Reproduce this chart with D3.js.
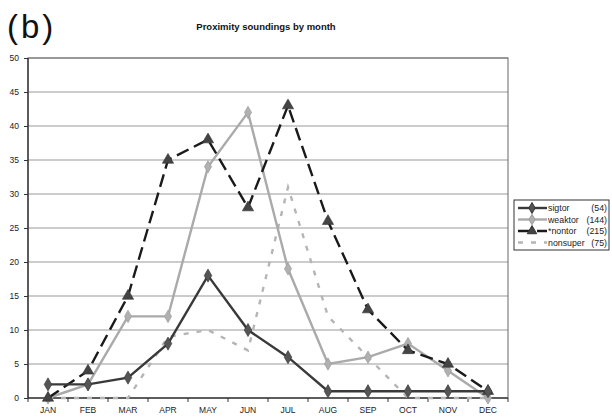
<!DOCTYPE html>
<html><head><meta charset="utf-8">
<script src="https://cdn.jsdelivr.net/npm/d3@7"></script>
<style>body{margin:0;background:#fff}svg{display:block}</style>
</head><body>
<svg id="c" width="612" height="417"></svg>
<script>
const months = ["JAN","FEB","MAR","APR","MAY","JUN","JUL","AUG","SEP","OCT","NOV","DEC"];
const sigtor   = [2,2,3,8,18,10,6,1,1,1,1,1];
const weaktor  = [0,2,12,12,34,42,19,5,6,8,4,0];
const nontor   = [0,4,15,35,38,28,43,26,13,7,5,1];
const nonsuper = [0,0,0,9,10,7,31,12,6,0,0,0];
const yTicks = [0,5,10,15,20,25,30,35,40,45,50];
const seriesNames = ["sigtor","weaktor","*nontor","nonsuper"];
const seriesCounts = ["(54)","(144)","(215)","(75)"];

const svg = d3.select("#c");
const L=28, R=508, T=58, B=398;
const x = d3.scaleBand().domain(months).range([L,R]);
const y = d3.scaleLinear().domain([0,50]).range([B,T]);
const font = "Liberation Sans, Arial, sans-serif";

svg.append("text").attr("x",7).attr("y",38).attr("font-family",font).attr("font-size",33)
  .attr("letter-spacing","3px").attr("fill","#111").text("(b)");
svg.append("text").attr("x",266).attr("y",30).attr("text-anchor","middle").attr("font-family",font)
  .attr("font-size",9.5).attr("font-weight","bold").attr("fill","#111").text("Proximity soundings by month");

// grid
svg.append("g").selectAll("line").data(yTicks).join("line")
  .attr("x1",L).attr("x2",R).attr("y1",d=>y(d)).attr("y2",d=>y(d))
  .attr("stroke","#999").attr("stroke-width",1);
// frame
svg.append("rect").attr("x",L).attr("y",T).attr("width",R-L).attr("height",B-T)
  .attr("fill","none").attr("stroke","#666").attr("stroke-width",1);
svg.append("line").attr("x1",L).attr("x2",L).attr("y1",T).attr("y2",B).attr("stroke","#222").attr("stroke-width",1.2);
svg.append("line").attr("x1",L).attr("x2",R).attr("y1",B).attr("y2",B).attr("stroke","#222").attr("stroke-width",1.2);

// y axis
const ya = svg.append("g").attr("transform",`translate(${L},0)`)
  .call(d3.axisLeft(y).tickValues(yTicks).tickSize(4).tickFormat(d3.format("d")));
ya.select(".domain").remove();
ya.selectAll("line").attr("stroke","#333");
ya.selectAll("text").attr("font-family",font).attr("font-size",8.5).attr("fill","#222").attr("dx","-2");

// x axis ticks at boundaries
const xb = months.map(m=>x(m)).concat([R]);
svg.append("g").selectAll("line").data(xb).join("line")
  .attr("x1",d=>d).attr("x2",d=>d).attr("y1",B).attr("y2",B+4).attr("stroke","#333");
svg.append("g").selectAll("text").data(months).join("text")
  .attr("x",d=>x(d)+x.bandwidth()/2).attr("y",B+15).attr("text-anchor","middle")
  .attr("font-family",font).attr("font-size",8.5).attr("fill","#222").text(d=>d);

const cx = i => x(months[i]) + x.bandwidth()/2;
const line = d3.line().x((d,i)=>cx(i)).y(d=>y(d));

function drawSeries(data, opt){
  const g = svg.append("g");
  g.append("path").datum(data).attr("d",line).attr("fill","none")
    .attr("stroke",opt.color).attr("stroke-width",opt.w).attr("stroke-dasharray",opt.dash||null);
  if(opt.marker){
    const sym = d3.symbol().type(opt.marker).size(opt.msize);
    g.selectAll("path.m").data(data).join("path").attr("class","m")
      .attr("d",sym).attr("transform",(d,i)=>`translate(${cx(i)},${y(d)})`)
      .attr("fill",opt.mfill).attr("stroke",opt.mstroke||"none").attr("stroke-width",0.6);
  }
}
const styles = [
  {color:"#3a3a3a", w:2.4, marker:d3.symbolDiamond, msize:50, mfill:"#555", mstroke:"#333"},
  {color:"#aaaaaa", w:2.4, marker:d3.symbolDiamond, msize:45, mfill:"#b0b0b0", mstroke:"#999"},
  {color:"#1a1a1a", w:2.4, dash:"13,6", marker:d3.symbolTriangle, msize:55, mfill:"#444", mstroke:"#333"},
  {color:"#b5b5b5", w:2.4, dash:"5,8"}
];
drawSeries(nonsuper, styles[3]);
drawSeries(weaktor, styles[1]);
drawSeries(nontor, styles[2]);
drawSeries(sigtor, styles[0]);

// legend
const lg = svg.append("g");
lg.append("rect").attr("x",514).attr("y",200).attr("width",95).attr("height",50)
  .attr("fill","#fff").attr("stroke","#333").attr("stroke-width",1);
seriesNames.forEach((n,i)=>{
  const yy = 208 + i*11.5;
  const s = styles[i];
  lg.append("line").attr("x1",518).attr("x2",547).attr("y1",yy).attr("y2",yy)
    .attr("stroke",s.color).attr("stroke-width",s.w).attr("stroke-dasharray",s.dash||null);
  if(s.marker){
    lg.append("path").attr("d",d3.symbol().type(s.marker).size(s.msize*0.7)())
      .attr("transform",`translate(532,${yy})`).attr("fill",s.mfill).attr("stroke",s.mstroke);
  }
  lg.append("text").attr("x",548).attr("y",yy+3).attr("font-family",font).attr("font-size",8.8)
    .attr("fill","#222").text(n);
  lg.append("text").attr("x",607).attr("y",yy+3).attr("text-anchor","end").attr("font-family",font)
    .attr("font-size",8.8).attr("fill","#222").text(seriesCounts[i]);
});
</script>
</body></html>
